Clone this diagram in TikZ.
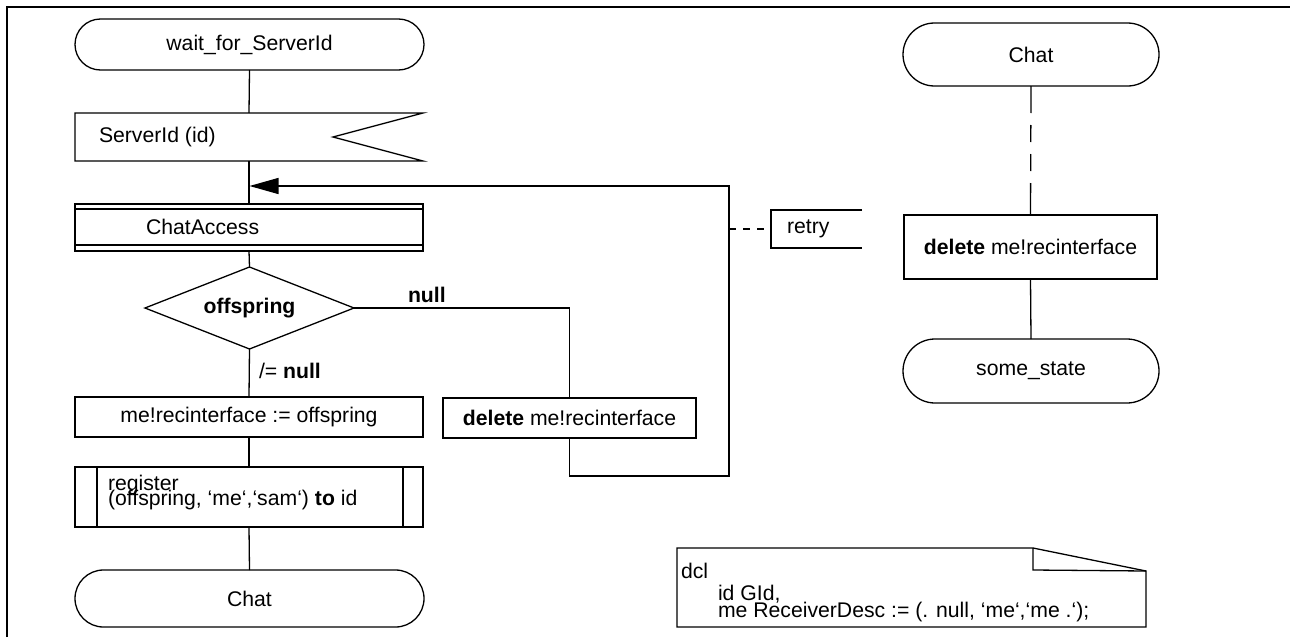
\documentclass[tikz,border=0pt]{standalone}
\usepackage{fontspec}
\setmainfont{Liberation Sans}
\usetikzlibrary{shapes.misc,arrows.meta}

\begin{document}
\begin{tikzpicture}[x=0.5pt,y=-0.5pt,line width=0.65pt,
  every node/.style={font=\fontsize{10.6}{12.7}\selectfont,inner sep=0pt,outer sep=0pt},
  term/.style={draw,rounded rectangle},
  taskbox/.style={draw,rectangle},
  plain/.style={rectangle},
  flowtip/.style={-{Triangle[length=14.5pt,width=8pt]}},
  linkdash/.style={dash pattern=on 3.5pt off 3.5pt}]

\useasboundingbox (0,0) rectangle (1290,637);

% page frame
\draw[line width=0.9pt] (7,637) -- (7,7) -- (1290,7);

% ---------- left column: process flow ----------
\node[term,minimum width=174.5pt,minimum height=25.5pt] (wfs) at (249.5,44.5) {wait\_for\_ServerId};

% input signal
\node[plain,minimum width=174pt,minimum height=24pt] (sid) at (249,137) {};
\coordinate (sidnotch) at (333,137);
\draw (sid.north west) -- (sid.north east) -- (sidnotch) -- (sid.south east) -- (sid.south west) -- cycle;
\node[anchor=west] (sidtxt) at (99,137) {ServerId (id)};

% macro call
\node[taskbox,minimum width=174pt,minimum height=23.5pt] (ca) at (249,227.5) {};
\draw ([yshift=-2.5pt]ca.north west) -- ([yshift=-2.5pt]ca.north east);
\draw ([yshift=3pt]ca.south west) -- ([yshift=3pt]ca.south east);
\node[anchor=west] (catxt) at (146,227) {ChatAccess};

% decision (outline drawn through the box's side midpoints)
\node[plain,minimum width=104.5pt,minimum height=41pt,font=\fontsize{10.6}{12.7}\selectfont\bfseries] (dec) at (249.5,308) {offspring};
\draw (dec.north) -- (dec.east) -- (dec.south) -- (dec.west) -- cycle;

% assignment task
\node[taskbox,minimum width=174pt,minimum height=20pt] (asg) at (249,417) {me!recinterface := offspring};

% procedure call
\node[taskbox,minimum width=174pt,minimum height=30pt] (reg) at (249,497) {};
\draw ([xshift=11pt]reg.north west) -- ([xshift=11pt]reg.south west);
\draw ([xshift=-10pt]reg.north east) -- ([xshift=-10pt]reg.south east);
\node[anchor=base west] (regtxta) at (108,490) {register};
\node[anchor=base west] (regtxtb) at (108,505) {(offspring, ‘me‘,‘sam‘) \textbf{to} id};

\node[term,minimum width=174.5pt,minimum height=28.5pt] (chatL) at (249.5,598.5) {Chat};

% null branch
\node[taskbox,minimum width=126.5pt,minimum height=20pt] (delL) at (569.5,418) {\textbf{delete} me!recinterface};

% connectors of the left column
\draw (wfs.south) -- (sid.north);
\draw (sid.south) -- (ca.north);
\draw (ca.south) -- (dec.north);
\draw (dec.south) -- (asg.north);
\draw (asg.south) -- (reg.north);
\draw (reg.south) -- (chatL.north);
\draw (dec.east) -| (delL.north);

\node[anchor=base west] (lblnull) at (408,302) {\textbf{null}};
\node[anchor=base west] (lblnotnull) at (259,378) {/= \textbf{null}};

% loop back to ChatAccess
\coordinate (loopSW) at (569.5,476);
\coordinate (loopSE) at (729,476);
\coordinate (loopNE) at (729,186);
\coordinate (join) at (249.5,186);
\draw[flowtip] (delL.south) -- (loopSW) -- (loopSE) -- (loopNE) -- (join);

% connector label "retry"
\node[plain,minimum width=45.5pt,minimum height=19pt] (retry) at (816.5,229) {};
\draw (retry.north east) -- (retry.north west) -- (retry.south west) -- (retry.south east);
\node[anchor=west] (retrytxt) at (787,229) {retry};
\coordinate (retryfoot) at (729,229);
\draw[linkdash] (retryfoot) -- (retry.west);

% ---------- right column ----------
\node[term,minimum width=128pt,minimum height=31.5pt] (chatR) at (1031,54.5) {Chat};
\node[taskbox,minimum width=126.5pt,minimum height=32pt] (delR) at (1030.5,247) {\textbf{delete} me!recinterface};
\node[term,minimum width=128pt,minimum height=32pt] (some) at (1031,371) {some\_state};

\draw[dash pattern=on 13.5pt off 6pt on 8.5pt off 6pt on 8.5pt off 6pt on 16pt] (chatR.south) -- (delR.north);
\draw (delR.south) -- (some.north);

% ---------- declaration note ----------
\draw (677,548) -- (1033,548) -- (1146,571) -- (1146,627) -- (677,627) -- cycle;
\draw (1033,548) -- (1033,570) -- (1146,571);
\node[anchor=base west] (dcla) at (681,578) {dcl};
\node[anchor=base west] (dclb) at (718,600) {id GId,};
\node[anchor=base west] (dclc) at (718,617) {me ReceiverDesc := (. null, ‘me‘,‘me .‘);};

\end{tikzpicture}
\end{document}
